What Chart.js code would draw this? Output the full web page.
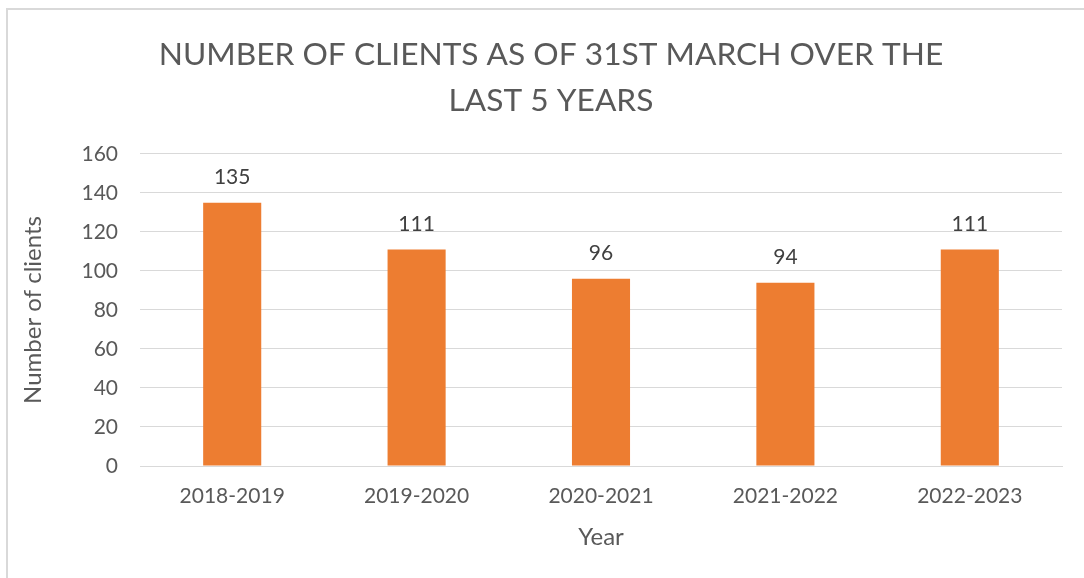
<!DOCTYPE html>
<html>
<head>
<meta charset="utf-8">
<script src="https://cdn.jsdelivr.net/npm/chart.js@4.4.1/dist/chart.umd.min.js"></script>
<style>
  html, body { margin: 0; padding: 0; background: #fff; overflow: hidden; }
  #wrap { position: relative; width: 1084px; height: 578px; }
  #frame { position: absolute; left: 6px; top: 8px; width: 1100px; height: 600px; border: 2px solid #d9d9d9; box-sizing: border-box; }
  canvas { position: absolute; left: 0; top: 0; }
</style>
</head>
<body>
<div id="wrap">
  <div id="frame"></div>
  <canvas id="clients" width="1084" height="578"></canvas>
</div>
<script>
var years = ['2018-2019', '2019-2020', '2020-2021', '2021-2022', '2022-2023'];
var clients = [135, 111, 96, 94, 111];
var titleLines = ['NUMBER OF CLIENTS AS OF 31ST MARCH OVER THE', 'LAST 5 YEARS'];

var FONT = "Lato, 'Open Sans', sans-serif";

// numbers above each bar
var barLabels = {
    id: 'barLabels',
    afterDatasetsDraw: function(chart){
        var ctx = chart.ctx;
        var meta = chart.getDatasetMeta(0);
        ctx.save();
        ctx.font = '21px ' + FONT;
        ctx.fillStyle = '#404040';
        ctx.textAlign = 'center';
        ctx.textBaseline = 'bottom';
        meta.data.forEach(function(bar, i){
            ctx.fillText(chart.data.datasets[0].data[i], bar.x, bar.y - 15);
        });
        ctx.restore();
    }
};

var ctx = document.getElementById('clients').getContext('2d');
var myChart = new Chart(ctx, {
    type: 'bar',
    data: {
        labels: years,
        datasets: [{
            label: 'Number of clients',
            data: clients,
            backgroundColor: '#ED7D31',
            borderWidth: 0,
            barPercentage: 0.315,
            categoryPercentage: 1
        }]
    },
    options: {
        responsive: false,
        animation: false,
        layout: { padding: { left: 40, right: 22, top: 0, bottom: 22 } },
        plugins: {
            legend: { display: false },
            tooltip: { enabled: false },
            title: {
                display: true,
                text: titleLines,
                color: '#595959',
                font: { family: FONT, size: 31.7, weight: 'normal', lineHeight: 1.45 },
                padding: { top: 32, bottom: 30 }
            }
        },
        scales: {
            x: {
                grid: { display: false, drawTicks: false },
                border: { color: '#d9d9d9', width: 1 },
                ticks: { color: '#595959', font: { family: FONT, size: 21 }, padding: 18, maxRotation: 0 },
                title: { display: true, text: 'Year', color: '#595959', font: { family: FONT, size: 24 }, padding: { top: 4, bottom: 4 } },
                afterFit: function(scale){ scale.height = 90; }
            },
            y: {
                min: 0,
                max: 160,
                ticks: { stepSize: 20, color: '#595959', font: { family: FONT, size: 21 }, padding: 22 },
                grid: { color: '#d9d9d9', drawTicks: false },
                border: { display: false },
                title: { display: true, text: 'Number of clients', color: '#595959', font: { family: FONT, size: 24 }, padding: { top: -21, bottom: 12 } },
                afterFit: function(scale){ scale.width = 100; }
            }
        }
    },
    plugins: [barLabels]
});
</script>
</body>
</html>
